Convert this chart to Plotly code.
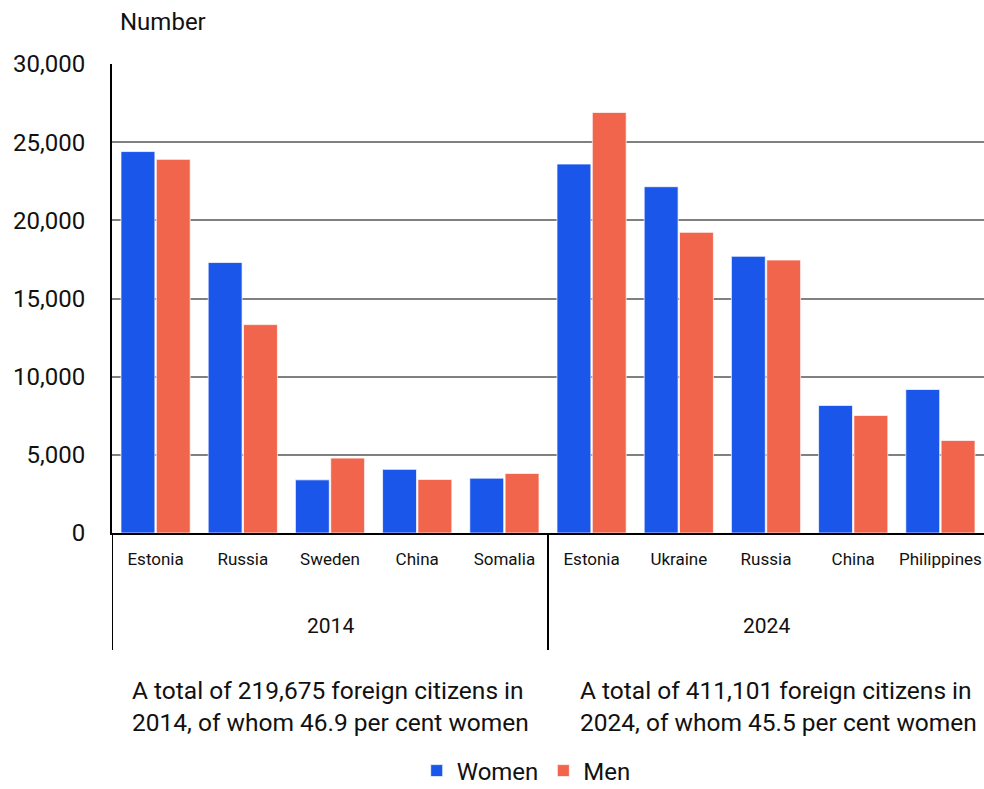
import plotly.graph_objects as go

countries = ["Estonia", "Russia", "Sweden", "China", "Somalia",
             "Estonia", "Ukraine", "Russia", "China", "Philippines"]
years = ["2014", "2024"]
women = [24400, 17300, 3400, 4070, 3510, 23600, 22150, 17700, 8160, 9180]
men = [23900, 13330, 4790, 3430, 3810, 26900, 19230, 17460, 7520, 5920]
notes = ["A total of 219,675 foreign citizens in<br>2014, of whom 46.9 per cent women",
         "A total of 411,101 foreign citizens in<br>2024, of whom 45.5 per cent women"]
y_ticks = [0, 5000, 10000, 15000, 20000, 25000, 30000]

FONT = "Roboto"
BLUE = "#1b56ea"
RED = "#f2654d"

xpos = list(range(len(countries)))

fig = go.Figure()
fig.add_trace(go.Bar(x=xpos, y=women, name="Women", marker=dict(color=BLUE, line=dict(color="rgba(255,255,255,0.7)", width=1))))
fig.add_trace(go.Bar(x=xpos, y=men, name="Men", marker=dict(color=RED, line=dict(color="rgba(255,255,255,0.7)", width=1))))

# plot area spans x 112..984, y 64..533 in the window
PH = 469.0
fig.update_layout(
    width=984, height=789,
    margin=dict(l=112, r=0, t=64, b=256, autoexpand=False),
    plot_bgcolor="white", paper_bgcolor="white",
    barmode="group", bargap=0.19, bargroupgap=0.04,
    font=dict(family=FONT, color="#111111"),
    showlegend=True,
    legend=dict(orientation="h", x=0.475, xanchor="center", y=(533 - 771) / PH, yanchor="middle",
                font=dict(size=24, family=FONT), traceorder="normal"),
    xaxis=dict(range=[-0.5, len(countries) - 0.5], tickmode="array", tickvals=xpos,
               ticktext=countries, showgrid=False, showline=True, linecolor="black",
               linewidth=2, ticks="", tickfont=dict(size=17, family=FONT), ticklabelstandoff=10,
               ticklabeloverflow="allow", fixedrange=True),
    yaxis=dict(range=[0, 30000], tickmode="array", tickvals=y_ticks,
               ticktext=[f"{v:,}" for v in y_ticks], showgrid=True, gridcolor="#808080",
               gridwidth=1.5, showline=True, linecolor="black", linewidth=2, zeroline=False,
               ticks="", tickfont=dict(size=24, family=FONT), ticklabelstandoff=20,
               fixedrange=True),
)

fig.add_annotation(text="Number", xref="paper", yref="paper", x=(118 - 112) / 872, y=(533 - 22) / PH,
                   xanchor="left", yanchor="middle", showarrow=False, font=dict(size=24, family=FONT))

# group dividers
for xd in [-0.5, 4.5]:
    fig.add_shape(type="line", xref="x", yref="paper", x0=xd, x1=xd, y0=0, y1=-117 / PH,
                  line=dict(color="black", width=2))

# year labels
for i, yr in enumerate(years):
    fig.add_annotation(text=yr, xref="x", yref="paper", x=2 + 5 * i, y=(533 - 626) / PH,
                       xanchor="center", yanchor="middle", showarrow=False,
                       font=dict(size=21, family=FONT))

# notes
for xn, note in zip([130, 578], notes):
    fig.add_annotation(text=note, xref="paper", yref="paper", x=(xn - 112) / 872,
                       y=(533 - 706) / PH, xanchor="left", yanchor="middle", align="left",
                       showarrow=False, font=dict(size=24.5, family=FONT))

fig.write_html("out.html", config={"displayModeBar": False},
               post_script="document.body.style.margin='0';document.body.style.overflow='hidden';")
